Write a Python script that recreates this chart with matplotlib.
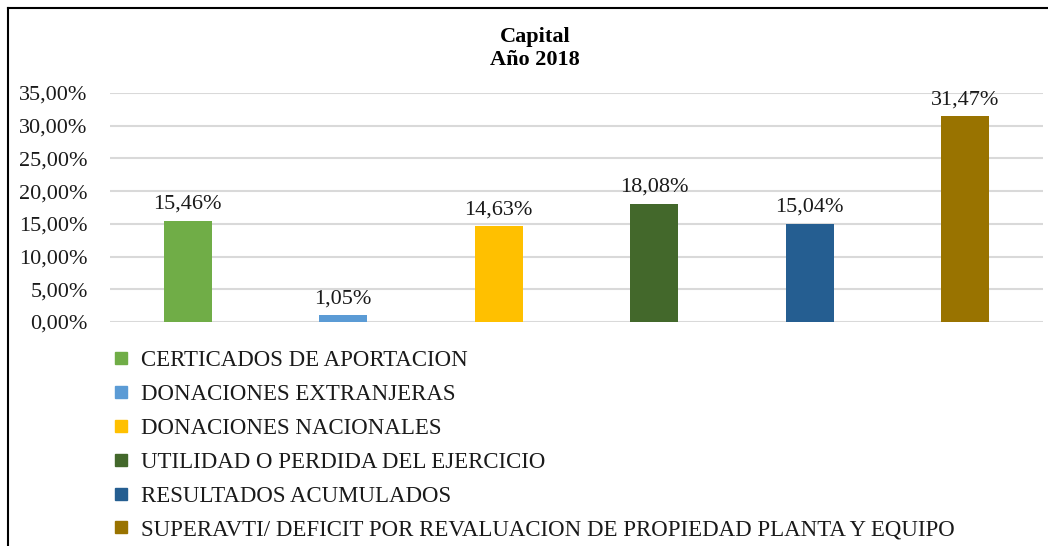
import matplotlib.pyplot as plt
from matplotlib.lines import Line2D
from matplotlib.ticker import FuncFormatter

# Datos
categorias = ['CERTICADOS DE APORTACION', 'DONACIONES EXTRANJERAS',
              'DONACIONES NACIONALES', 'UTILIDAD O PERDIDA DEL EJERCICIO',
              'RESULTADOS ACUMULADOS',
              'SUPERAVTI/ DEFICIT POR REVALUACION DE PROPIEDAD PLANTA Y EQUIPO']
valores = [15.46, 1.05, 14.63, 18.08, 15.04, 31.47]
colores = ['#70AD47', '#5B9BD5', '#FFC000', '#43682B', '#255E91', '#997300']
ticks_y = [0, 5, 10, 15, 20, 25, 30, 35]

plt.rcParams['font.family'] = ['Liberation Serif', 'DejaVu Serif']

W, H = 1048, 546
fig = plt.figure(figsize=(W / 100, H / 100), dpi=100)

# Area de grafico (en pixeles)
x0, x1, ytop, ybot = 110, 1043, 93, 322
ax = fig.add_axes([x0 / W, 1 - ybot / H, (x1 - x0) / W, (ybot - ytop) / H])

xs = range(len(valores))
ax.bar(xs, valores, width=0.31, color=colores, zorder=3)
for x, v in zip(xs, valores):
    ax.text(x, v + 1.05, f'{v:.2f}%'.replace('.', ','), ha='center', va='bottom',
            fontsize=16, color='#1a1a1a')

ax.set_xlim(-0.5, len(valores) - 0.5)
ax.set_ylim(0, 35)
ax.set_yticks(ticks_y)
ax.yaxis.set_major_formatter(FuncFormatter(lambda v, p: f'{v:.2f}%'.replace('.', ',')))
ax.tick_params(axis='y', length=0, labelsize=16, pad=16, labelcolor='#1a1a1a')
ax.set_xticks([])
ax.grid(axis='y', color='#d9d9d9', linewidth=1.5, zorder=0)
for s in ax.spines.values():
    s.set_visible(False)

# Titulo
fig.text(535 / W, 1 - 42 / H, 'Capital', ha='center', va='baseline',
         fontsize=16, fontweight='bold')
fig.text(535 / W, 1 - 65 / H, 'Año 2018', ha='center', va='baseline',
         fontsize=16, fontweight='bold')

# Leyenda
handles = [Line2D([], [], marker='s', linestyle='none', markersize=8,
                  markerfacecolor=c, markeredgecolor=c) for c in colores]
fig.legend(handles, categorias, loc='upper left',
           bbox_to_anchor=(112 / W, 1 - 350 / H), frameon=False,
           fontsize=16.5, labelspacing=0.56, handlelength=0.75,
           handletextpad=0.5, borderpad=0, borderaxespad=0,
           labelcolor='#1a1a1a')

# Borde del grafico
fig.add_artist(Line2D([8 / W, 1], [1 - 8 / H, 1 - 8 / H], color='black', linewidth=1.5))
fig.add_artist(Line2D([8 / W, 8 / W], [0, 1 - 8 / H], color='black', linewidth=1.5))

fig.savefig('out.png', dpi=100)
